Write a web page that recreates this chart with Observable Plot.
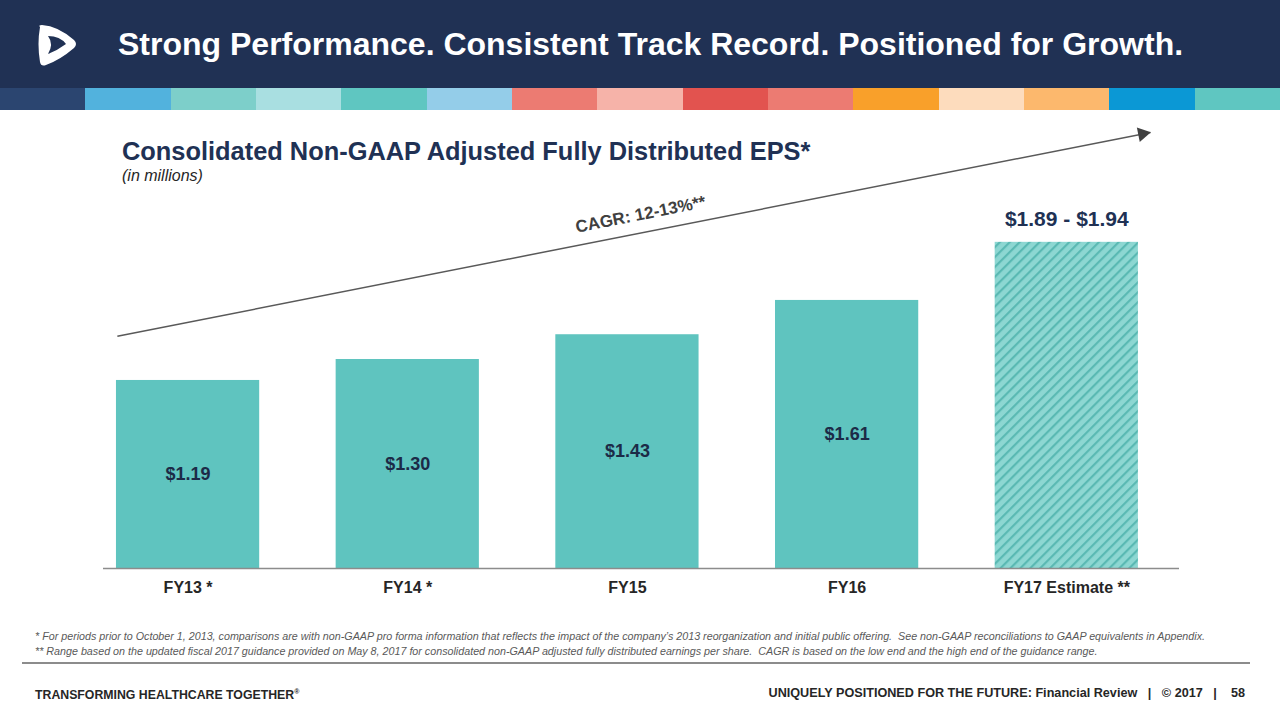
<!DOCTYPE html>
<html>
<head>
<meta charset="utf-8">
<script src="https://cdn.jsdelivr.net/npm/d3@7"></script>
<script src="https://cdn.jsdelivr.net/npm/@observablehq/plot@0.6"></script>
<style>
  html, body { margin: 0; padding: 0; }
  body { width: 1280px; height: 720px; position: relative; overflow: hidden; background: #fff; font-family: "Liberation Sans", Arial, sans-serif; }
  .abs { position: absolute; white-space: nowrap; }
  #header { left: 0; top: 0; width: 1280px; height: 88px; background: #203154; }
  #stripes { left: 0; top: 88px; width: 1280px; height: 22px; display: flex; }
  #stripes div { flex: 1; height: 100%; }
  #title { left: 118px; top: 24px; color: #fff; font-weight: bold; font-size: 32px; line-height: 40px; }
  #sub { left: 122px; top: 136px; color: #203154; font-weight: bold; font-size: 25.4px; line-height: 30px; }
  #unit { left: 122px; top: 166px; color: #262626; font-style: italic; font-size: 16px; line-height: 19px; }
  #chart { left: 0; top: 112px; }
  .foot { left: 35px; color: #595959; font-style: italic; font-size: 11.5px; line-height: 14px; transform-origin: 0 0; }
  #rule { left: 22px; top: 662px; width: 1228px; height: 2px; background: #8c8c8c; }
  #tag { left: 35px; top: 684px; color: #262626; font-weight: bold; font-size: 12.3px; line-height: 16px; }
  #tag sup { font-size: 7px; vertical-align: 5px; }
  #right { right: 35px; top: 685px; color: #262626; font-weight: bold; font-size: 12.65px; line-height: 16px; }
  #logo { left: 34px; top: 22px; }
</style>
</head>
<body>
<div id="header" class="abs"></div>
<svg id="logo" class="abs" width="46" height="46" viewBox="0 0 46 46">
  <path d="M6 5 Q4 3 8 3 Q24 4 40 18 Q44 22 40 26 Q26 38 12 43 Q7 45 6 40 Q3 22 6 5 Z" fill="#fff"/>
  <path d="M14 14 Q26 14 32 22 Q24 28 14 32 Q20 22 14 14 Z" fill="#203154"/>
</svg>
<div id="title" class="abs">Strong Performance. Consistent Track Record. Positioned for Growth.</div>
<div id="stripes" class="abs"></div>
<div id="sub" class="abs">Consolidated Non-GAAP Adjusted Fully Distributed EPS*</div>
<div id="unit" class="abs">(in millions)</div>
<div id="chart" class="abs"></div>
<div id="f1" class="abs foot" style="top:629px">* For periods prior to October 1, 2013, comparisons are with non-GAAP pro forma information that reflects the impact of the company’s 2013 reorganization and initial public offering.&nbsp; See non-GAAP reconciliations to GAAP equivalents in Appendix.</div>
<div id="f2" class="abs foot" style="top:644px">** Range based on the updated fiscal 2017 guidance provided on May 8, 2017 for consolidated non-GAAP adjusted fully distributed earnings per share.&nbsp; CAGR is based on the low end and the high end of the guidance range.</div>
<div id="rule" class="abs"></div>
<div id="tag" class="abs">TRANSFORMING HEALTHCARE TOGETHER<sup>®</sup></div>
<div id="right" class="abs">UNIQUELY POSITIONED FOR THE FUTURE: Financial Review &nbsp;&nbsp;|&nbsp;&nbsp; © 2017 &nbsp;&nbsp;|&nbsp;&nbsp;&nbsp; 58</div>
<script>
// ---- data ----
const categories = ["FY13 *", "FY14 *", "FY15", "FY16", "FY17 Estimate **"];
const eps = [1.19, 1.30, 1.43, 1.61, 1.915];
const valueLabels = ["$1.19", "$1.30", "$1.43", "$1.61", "$1.89 - $1.94"];
const isEstimate = [false, false, false, false, true];
const cagrLabel = "CAGR: 12-13%**";
const arrowStart = [-0.322, 1.422];
const arrowEnd = [4.381, 2.492];
const cagrPos = [2.06, 2.061];
const stripeColors = ["#2b4570", "#52b2dd", "#7dcfca", "#a9dfe1", "#5fc6c1", "#94cde9", "#ec7b72", "#f6b3a9", "#e2534f", "#ec7b72", "#f9a02a", "#fddcbd", "#fcb86d", "#0b98d5", "#5fc6c1"];

// stripes
const st = document.getElementById("stripes");
stripeColors.forEach(c => { const d = document.createElement("div"); d.style.background = c; st.appendChild(d); });

// condense footnotes to the reference width
const f1 = document.getElementById("f1"), f2 = document.getElementById("f2");
const k = 1170 / f1.getBoundingClientRect().width;
f1.style.transform = `scaleX(${k})`;
f2.style.transform = `scaleX(${k})`;

const yBase = 0.203;
const bars = categories.map((c, i) => ({i, c, v: eps[i], label: valueLabels[i], est: isEstimate[i]}));
const arrowData = [{x1: arrowStart[0], y1: arrowStart[1], x2: arrowEnd[0], y2: arrowEnd[1]}];
const half = 0.326;

const chart = Plot.plot({
  width: 1280,
  height: 498,
  marginTop: 10,
  marginBottom: 42,
  marginLeft: 103,
  marginRight: 101,
  style: {fontFamily: "'Liberation Sans', Arial, sans-serif", background: "transparent", overflow: "visible"},
  x: {domain: [-0.385, 4.513], axis: null},
  y: {domain: [yBase, 2.544], axis: null},
  marks: [
    Plot.rectY(bars.filter(d => !d.est), {x1: d => d.i - half, x2: d => d.i + half, y1: yBase, y2: "v", fill: "#5fc4bf"}),
    Plot.rectY(bars.filter(d => d.est), {x1: d => d.i - half, x2: d => d.i + half, y1: yBase, y2: "v", fill: "url(#hatch)"}),
    Plot.ruleY([yBase], {stroke: "#8c8c8c", strokeWidth: 1.5}),
    Plot.text(bars.filter(d => !d.est), {x: "i", y: d => (d.v + yBase) / 2, text: "label", fontSize: 18, fontWeight: "bold", fill: "#1c2b47"}),
    Plot.text(bars.filter(d => d.est), {x: "i", y: "v", text: "label", dy: -23, fontSize: 21, fontWeight: "bold", fill: "#203154"}),
    Plot.link(arrowData, {x1: "x1", y1: "y1", x2: "x2", y2: "y2", stroke: "#595959", strokeWidth: 1.5}),
    Plot.dot(arrowData, {x: "x2", y: "y2", symbol: "triangle", r: 5.5, fill: "#404040", stroke: "none", rotate: 78.8, dx: -8, dy: 1.5}),
    Plot.text([cagrLabel], {x: cagrPos[0], y: cagrPos[1], text: d => d, rotate: -11.2, fontSize: 17, fontWeight: "bold", fill: "#404040"}),
    Plot.axisX(bars.map(d => d.i), {anchor: "bottom", tickSize: 0, tickPadding: 13, tickFormat: i => categories[i], fontSize: 16, fontWeight: "bold", fill: "#262626", label: null})
  ]
});

// hatch pattern for the estimate bar
const defs = d3.select(chart).insert("defs", ":first-child");
const pat = defs.append("pattern").attr("id", "hatch").attr("patternUnits", "userSpaceOnUse")
  .attr("width", 7).attr("height", 7).attr("patternTransform", "rotate(45)");
pat.append("rect").attr("width", 7).attr("height", 7).attr("fill", "#8dd7d2");
pat.append("rect").attr("x", 0).attr("width", 2.2).attr("height", 7).attr("fill", "#5ab9b3");

document.getElementById("chart").appendChild(chart);
</script>
</body>
</html>
